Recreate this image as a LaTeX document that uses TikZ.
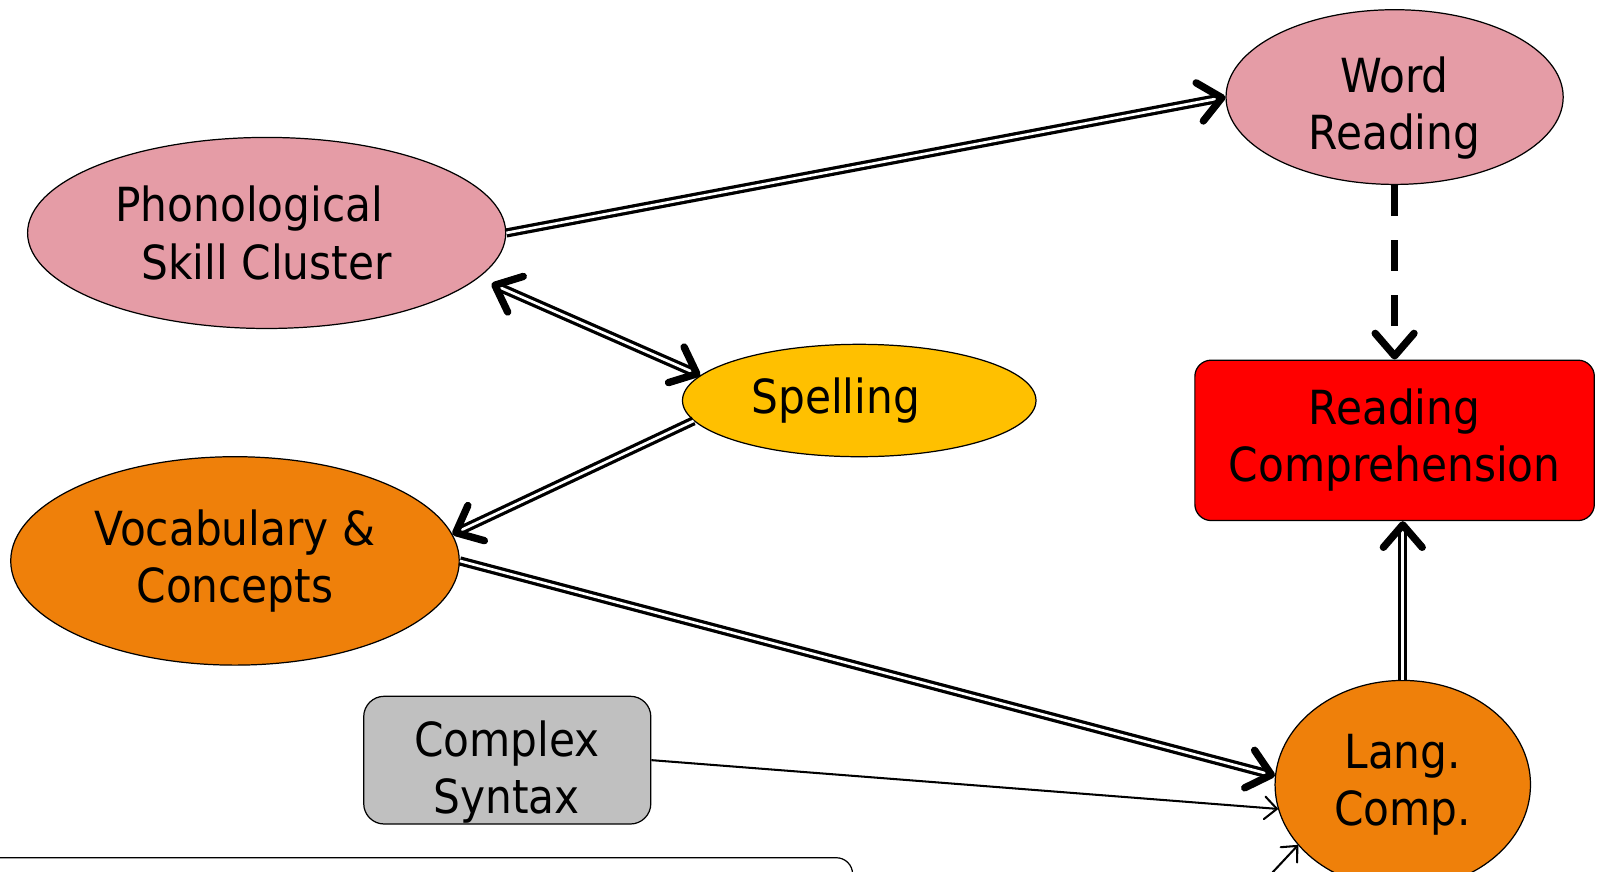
\documentclass[tikz,border=0pt]{standalone}
\usepackage{fontspec}
\setmainfont{DejaVu Sans Condensed}
\usetikzlibrary{shapes.geometric,arrows.meta}
\definecolor{pinkc}{RGB}{229,156,166}
\definecolor{spellc}{RGB}{255,192,0}
\definecolor{orangec}{RGB}{239,128,10}
\definecolor{grayc}{RGB}{192,192,192}
\tikzset{
  bigtip/.tip={Straight Barb[length=11pt,width=19pt,line width=3.6pt,round]},
  smalltip/.tip={Straight Barb[length=6pt,width=11pt,line width=1pt,round]},
  ell/.style={ellipse, draw, line width=0.6pt, inner sep=0pt, align=center},
  boxs/.style={rectangle, draw, line width=0.6pt, inner sep=0pt, align=center},
  dbl/.style={double, line width=1.6pt, double distance=1.3pt},
  thinline/.style={line width=1pt},
  dashline/.style={line width=3.4pt, dash pattern=on 15pt off 12pt},
  txt/.style={align=center, inner sep=0pt}
}
\begin{document}
\begin{tikzpicture}[x=0.5pt,y=-0.5pt,font=\fontsize{23}{28}\selectfont]
\useasboundingbox (0,0) rectangle (1568,853);
\clip (0,0) rectangle (1568,853);
% nodes
\node[ell, fill=pinkc, minimum width=234pt, minimum height=93.5pt] (pc) at (261,228) {Phonological\hspace*{17pt}\\Skill Cluster};
\node[ell, fill=pinkc, minimum width=165pt, minimum height=85.5pt] (wr) at (1365,95) {};
\node[txt] (wrtext) at (1365,106) {Word\\Reading};
\node[ell, fill=spellc, minimum width=173pt, minimum height=55pt] (sp) at (841,392) {Spelling\hspace*{23pt}};
\node[ell, fill=orangec, minimum width=219.5pt, minimum height=102pt] (vc) at (230,549) {Vocabulary \&\\Concepts};
\node[boxs, fill=red, rounded corners=8pt, minimum width=195.5pt, minimum height=78.5pt] (rc) at (1365,431) {Reading\\Comprehension};
\node[ell, fill=orangec, minimum width=125pt, minimum height=102pt] (lc) at (1373,768) {Lang.\\Comp.};
\node[boxs, fill=grayc, rounded corners=10pt, minimum width=140.5pt, minimum height=62.5pt] (cs) at (496.5,744) {};
\node[txt] (cstext) at (496,756) {Complex\\Syntax};
\node[boxs, fill=white, rounded corners=8pt, minimum width=432.5pt, minimum height=55.5pt] (bb) at (402,895) {};
% connectors
\draw[dbl, -bigtip] (pc.east) -- (wr.west);
\draw[dbl, bigtip-bigtip, shorten <=7pt] (pc.-12) -- (sp.171);
\draw[dbl, -bigtip] (sp.187) -- (vc.7);
\draw[dbl, -bigtip] (vc.east) -- (lc.176);
\draw[thinline, -smalltip] (cs.east) -- (lc.191);
\draw[dashline, -bigtip] (wr.south) -- (rc.north);
\draw[dbl, -bigtip] (lc.north) -- (lc.north |- rc.south);
\coordinate (bstart) at (1237,863);
\draw[thinline, -smalltip] (bstart) -- (lc.210);
\end{tikzpicture}
\end{document}
